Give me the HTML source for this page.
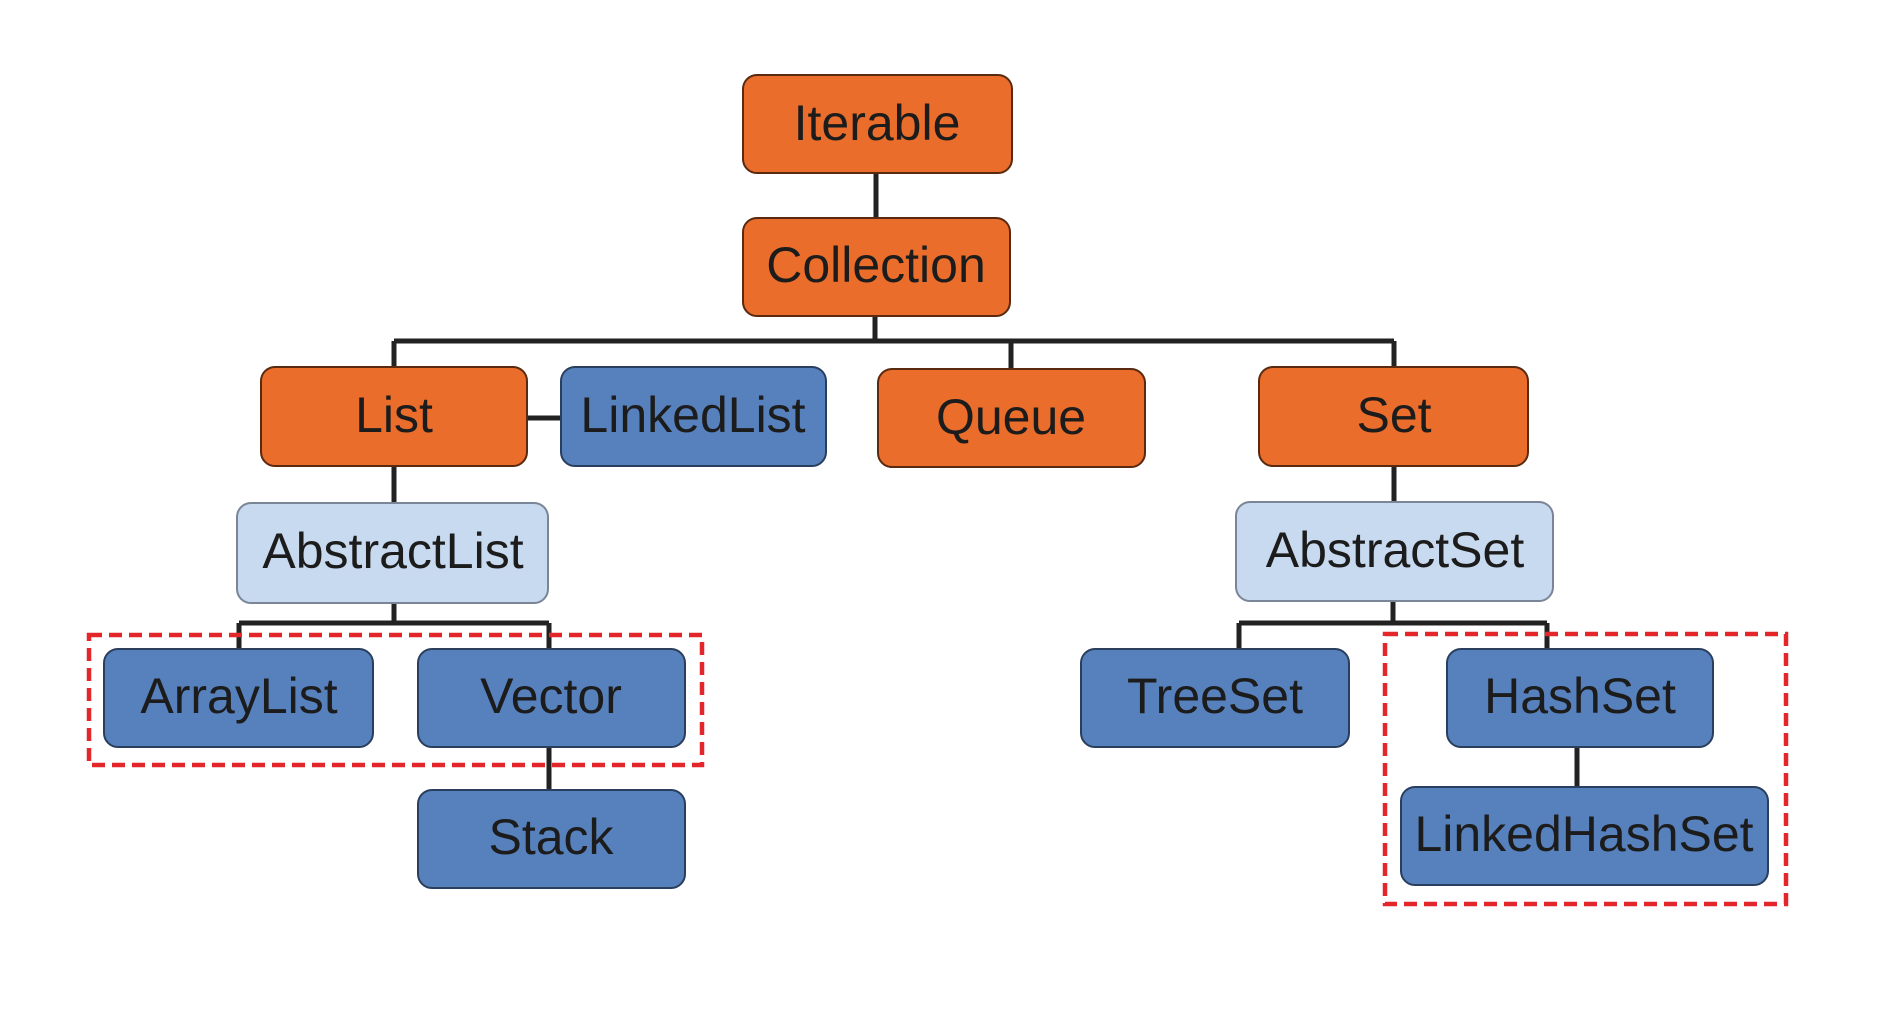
<!DOCTYPE html>
<html><head><meta charset="utf-8"><style>
html,body{margin:0;padding:0;background:#fff;}
svg{display:block;}
text{font-family:"Liberation Sans",sans-serif;font-size:50px;fill:#1c1c1c;text-anchor:middle;dominant-baseline:central;}
.o{fill:#EA6D2B;stroke:#5a2a10;stroke-width:2;}
.b{fill:#5781BD;stroke:#2a3f5e;stroke-width:2;}
.l{fill:#C8DAEF;stroke:#7a8698;stroke-width:2;}
.ln{stroke:#222;stroke-width:5;fill:none;}
.r{stroke:#E2262A;stroke-width:4.5;fill:none;stroke-dasharray:13 7;}
</style></head><body>
<svg width="1886" height="1014" viewBox="0 0 1886 1014">
<path class="ln" d="M876 173V218 M875 316V341 M394 341H1394 M394 341V367 M1011 341V369 M1394 341V367 M527 418H561 M394 466V503 M1394 466V502 M394 603V623 M239 623H549 M239 623V649 M549 623V649 M549 747V790 M1393 601V623 M1239 623H1547 M1239 623V649 M1547 623V649 M1577 747V787"/>
<g>
<rect class="o" x="743" y="75" width="269" height="98" rx="14"/><text x="877" y="123">Iterable</text>
<rect class="o" x="743" y="218" width="267" height="98" rx="14"/><text x="876" y="265">Collection</text>
<rect class="o" x="261" y="367" width="266" height="99" rx="14"/><text x="394" y="415">List</text>
<rect class="b" x="561" y="367" width="265" height="99" rx="14"/><text x="693" y="415">LinkedList</text>
<rect class="o" x="878" y="369" width="267" height="98" rx="14"/><text x="1011" y="417">Queue</text>
<rect class="o" x="1259" y="367" width="269" height="99" rx="14"/><text x="1394" y="415">Set</text>
<rect class="l" x="237" y="503" width="311" height="100" rx="14"/><text x="393" y="551">AbstractList</text>
<rect class="l" x="1236" y="502" width="317" height="99" rx="14"/><text x="1395" y="550">AbstractSet</text>
<rect class="b" x="104" y="649" width="269" height="98" rx="14"/><text x="239" y="696">ArrayList</text>
<rect class="b" x="418" y="649" width="267" height="98" rx="14"/><text x="551" y="696">Vector</text>
<rect class="b" x="418" y="790" width="267" height="98" rx="14"/><text x="551" y="837">Stack</text>
<rect class="b" x="1081" y="649" width="268" height="98" rx="14"/><text x="1215" y="696">TreeSet</text>
<rect class="b" x="1447" y="649" width="266" height="98" rx="14"/><text x="1580" y="696">HashSet</text>
<rect class="b" x="1401" y="787" width="367" height="98" rx="14"/><text x="1584" y="834">LinkedHashSet</text>
</g>
<rect class="r" x="89" y="635" width="613" height="130"/>
<rect class="r" x="1385" y="634" width="401" height="270"/>
</svg>
</body></html>
